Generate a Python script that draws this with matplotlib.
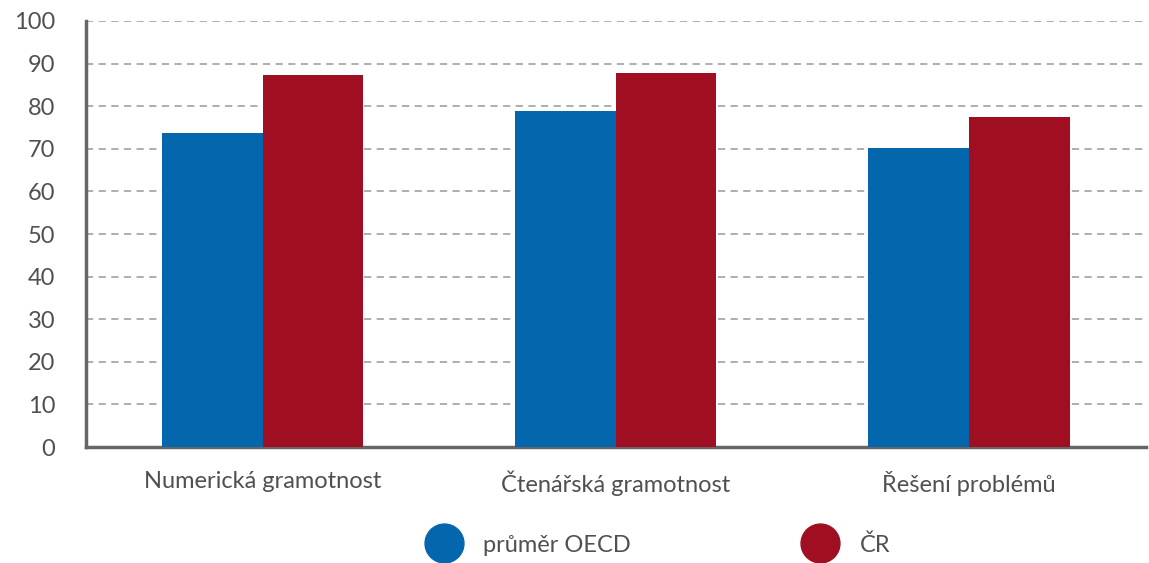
import matplotlib
matplotlib.use("Agg")
import matplotlib.pyplot as plt
from matplotlib.lines import Line2D
import numpy as np

categories = ["Numerická gramotnost", "Čtenářská gramotnost", "Řešení problémů"]
oecd = [73.7, 78.9, 70.1]
cr = [87.3, 87.7, 77.5]
series_names = ["průměr OECD", "ČR"]
yticks = [0, 10, 20, 30, 40, 50, 60, 70, 80, 90, 100]

BLUE = "#0467AE"
RED = "#A00F21"
TEXT = "#505050"
plt.rcParams["font.family"] = ["Lato", "DejaVu Sans"]

fig = plt.figure(figsize=(11.49, 5.63), dpi=100)
ax = fig.add_axes([0.0748, 0.206, 0.9222, 0.7567])

x = np.arange(len(categories))
w = 0.285
ax.bar(x - w / 2, oecd, width=w, color=BLUE, zorder=3)
ax.bar(x + w / 2, cr, width=w, color=RED, zorder=3)

ax.set_xlim(-0.5, 2.5)
ax.set_ylim(0, 100)
ax.set_yticks(yticks)
ax.set_xticks(x)
ax.set_xticklabels(categories)
ax.tick_params(axis="both", length=0, labelsize=17, labelcolor=TEXT)
ax.tick_params(axis="y", pad=22)
ax.tick_params(axis="x", pad=17)

ax.yaxis.grid(True, linestyle=(0, (4, 3)), color="#a8a8a8", linewidth=1.3, zorder=0)
for s in ["top", "right"]:
    ax.spines[s].set_visible(False)
for s in ["left", "bottom"]:
    ax.spines[s].set_color("#666666")
    ax.spines[s].set_linewidth(2.5)

handles = [
    Line2D([], [], linestyle="none", marker="o", markersize=28, color=BLUE),
    Line2D([], [], linestyle="none", marker="o", markersize=28, color=RED),
]
fig.legend(handles, series_names, loc="center", bbox_to_anchor=(0.5727, 0.032),
           ncol=2, frameon=False, fontsize=17, labelcolor=TEXT,
           handletextpad=0.9, columnspacing=7.3, handlelength=1.5)

fig.savefig("out.png", dpi=100)
